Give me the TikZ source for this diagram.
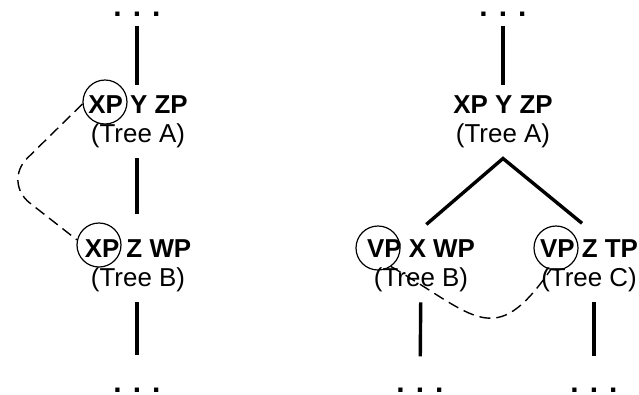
\documentclass[tikz,border=0pt]{standalone}
\usepackage{fontspec}
\setmainfont{Liberation Sans}
\begin{document}
\begin{tikzpicture}[x=1bp,y=1bp,
	tree/.style={font=\fontsize{26}{30}\selectfont, align=center, inner xsep=0pt, inner ysep=10bp, anchor=north},
	ellip/.style={font=\fontsize{30}{30}\selectfont\bfseries, inner ysep=10bp, anchor=base},
	branch/.style={line width=3.4bp},
	ring/.style={draw, circle, minimum size=44bp, inner sep=0pt, line width=1.2bp},
	link/.style={line width=1.4bp, dash pattern=on 11bp off 6bp}]
	\useasboundingbox (0,0) rectangle (639,-394);
	% albero di sinistra
	\node[ellip] (topL) at (137,-16) {. . .};
	\node[tree] (LA) at (138,-85) {\textbf{XP Y ZP}\\(Tree A)};
	\node[tree] (LB) at (138,-229) {\textbf{XP Z WP}\\(Tree B)};
	\node[ellip] (botL) at (137,-392) {. . .};
	\node[ring] (xpA) at (105,-102) {};
	\node[ring] (xpB) at (99,-245) {};
	\draw[branch] (topL) -- (topL |- LA.north);
	\draw[branch, shorten >=15bp] (topL |- LA.south) -- (topL |- LB.north);
	\draw[branch, shorten >=22bp] (topL |- LB.south) -- (botL);
	\draw[link, rounded corners=34bp] (xpA.185) -- (3,-182) -- (xpB.167);
	% albero di destra
	\node[ellip] (topR) at (503,-16) {. . .};
	\node[tree] (RA) at (503,-85) {\textbf{XP Y ZP}\\(Tree A)};
	\node[tree] (RB) at (421,-229) {\textbf{VP X WP}\\(Tree B)};
	\node[tree] (RC) at (589,-229) {\textbf{VP Z TP}\\(Tree C)};
	\node[ellip] (botB) at (420,-392) {. . .};
	\node[ellip] (botC) at (594,-392) {. . .};
	\node[ring] (vpB) at (378,-248) {};
	\node[ring] (vpC) at (556,-248) {};
	\draw[branch] (topR) -- (RA);
	\draw[branch, shorten <=7bp, shorten >=9bp] (RB.north) -- (RA.south) -- (RC.north);
	\draw[branch, shorten >=21bp] (RB) -- (botB);
	\draw[branch, shorten >=21bp] (botC |- RC.south) -- (botC);
	\draw[link] (vpB.-55) .. controls (476,-316) and (494,-351) .. (vpC.256);
\end{tikzpicture}
\end{document}
